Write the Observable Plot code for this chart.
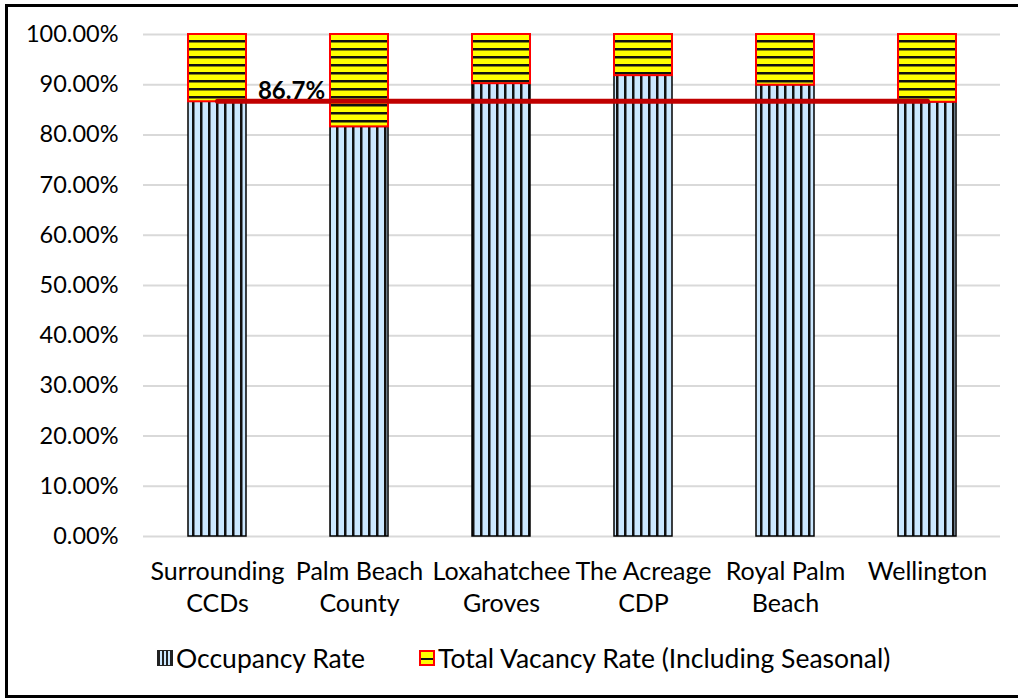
<!DOCTYPE html>
<html>
<head>
<meta charset="utf-8">
<script src="https://cdn.jsdelivr.net/npm/d3@7"></script>
<script src="https://cdn.jsdelivr.net/npm/@observablehq/plot@0.6"></script>
<style>
  html, body { margin: 0; padding: 0; background: #fff; }
  body { width: 1018px; height: 700px; position: relative; overflow: hidden; font-family: Lato, "Open Sans", sans-serif; }
  #frame { position: absolute; left: 5px; top: 4px; width: 1030px; height: 694px; box-sizing: border-box; border: 3px solid #000; }
  #chart { position: absolute; left: 0; top: 0; }
  #legend { position: absolute; top: 642px; left: 157px; display: flex; align-items: center; font-size: 26.5px; color: #000; white-space: nowrap; }
  .item { display: flex; align-items: center; }
  .sw { width: 16px; height: 16px; box-sizing: border-box; margin-right: 3px; }
</style>
</head>
<body>
<div id="frame"></div>
<div id="chart"></div>
<div id="legend"></div>
<script>
const categories = ["Surrounding CCDs", "Palm Beach County", "Loxahatchee Groves", "The Acreage CDP", "Royal Palm Beach", "Wellington"];
const tickLabels = ["Surrounding\nCCDs", "Palm Beach\nCounty", "Loxahatchee\nGroves", "The Acreage\nCDP", "Royal Palm\nBeach", "Wellington"];
const occupancyRate = [86.6, 81.6, 90.2, 91.8, 89.9, 86.5];
const vacancyRate = [13.4, 18.4, 9.8, 8.2, 10.1, 13.5];
const referenceValue = 86.7;
const referenceLabel = "86.7%";
const seriesNames = ["Occupancy Rate", "Total Vacancy Rate (Including Seasonal)"];
const yTicks = [0, 10, 20, 30, 40, 50, 60, 70, 80, 90, 100];

const rows = categories.map((c, i) => ({cat: c, occ: occupancyRate[i], vac: vacancyRate[i]}));
const labelOf = new Map(categories.map((c, i) => [c, tickLabels[i]]));

const chart = Plot.plot({
  width: 1018,
  height: 620,
  marginLeft: 143,
  marginRight: 18,
  marginTop: 34,
  marginBottom: 84,
  style: {fontFamily: "Lato, 'Open Sans', sans-serif", fontSize: "24px", color: "#000", background: "transparent"},
  x: {domain: categories, paddingInner: 0.594, paddingOuter: 0.297, label: null},
  y: {domain: [0, 100], label: null},
  marks: [
    Plot.gridY(yTicks, {stroke: "#d9d9d9", strokeOpacity: 1, strokeWidth: 2}),
    Plot.axisY(yTicks, {tickSize: 0, tickPadding: 25, tickFormat: d => d.toFixed(2) + "%", fontSize: 23.5, label: null}),
    Plot.axisX({tickSize: 0, tickPadding: 20, tickFormat: d => labelOf.get(d), fontSize: 25, lineHeight: 1.3, label: null}),
    Plot.barY(rows, {x: "cat", y1: 0, y2: "occ", fill: "url(#occPat)", stroke: "#000", strokeWidth: 1.5}),
    Plot.barY(rows, {x: "cat", y1: "occ", y2: d => d.occ + d.vac, fill: "url(#vacPat)", stroke: "#ff0000", strokeWidth: 2}),
    Plot.lineY(categories, {x: d => d, y: () => referenceValue, stroke: "#c00000", strokeWidth: 5}),
    Plot.text([categories[0]], {x: d => d, y: () => referenceValue, text: () => referenceLabel, dx: 74, dy: -10, fontWeight: "bold", fontSize: 24, fill: "#000"})
  ]
});

// patterns
const ns = "http://www.w3.org/2000/svg";
const defs = document.createElementNS(ns, "defs");
defs.innerHTML = `
  <pattern id="occPat" patternUnits="userSpaceOnUse" width="8" height="8">
    <rect width="8" height="8" fill="#cce8ff"></rect>
    <rect x="0" y="0" width="2.5" height="8" fill="#111"></rect>
  </pattern>
  <pattern id="vacPat" patternUnits="userSpaceOnUse" width="8" height="8">
    <rect width="8" height="8" fill="#ffff00"></rect>
    <rect x="0" y="0" width="8" height="2.5" fill="#111"></rect>
  </pattern>`;
chart.insertBefore(defs, chart.firstChild);
document.getElementById("chart").appendChild(chart);

// legend
const legend = document.getElementById("legend");
const swatches = [
  "background: repeating-linear-gradient(90deg, #222 0 2px, #cce8ff 2px 4px); border: 1.5px solid #222;",
  "background: repeating-linear-gradient(0deg, #ffff00 0 4px, #111 4px 6px, #ffff00 6px 10px); border: 2px solid #ff0000;"
];
seriesNames.forEach((name, i) => {
  const item = document.createElement("div");
  item.className = "item";
  if (i > 0) item.style.marginLeft = "54px";
  const sw = document.createElement("div");
  sw.className = "sw";
  sw.style.cssText = swatches[i];
  const t = document.createElement("span");
  t.textContent = name;
  item.appendChild(sw);
  item.appendChild(t);
  legend.appendChild(item);
});
</script>
</body>
</html>
